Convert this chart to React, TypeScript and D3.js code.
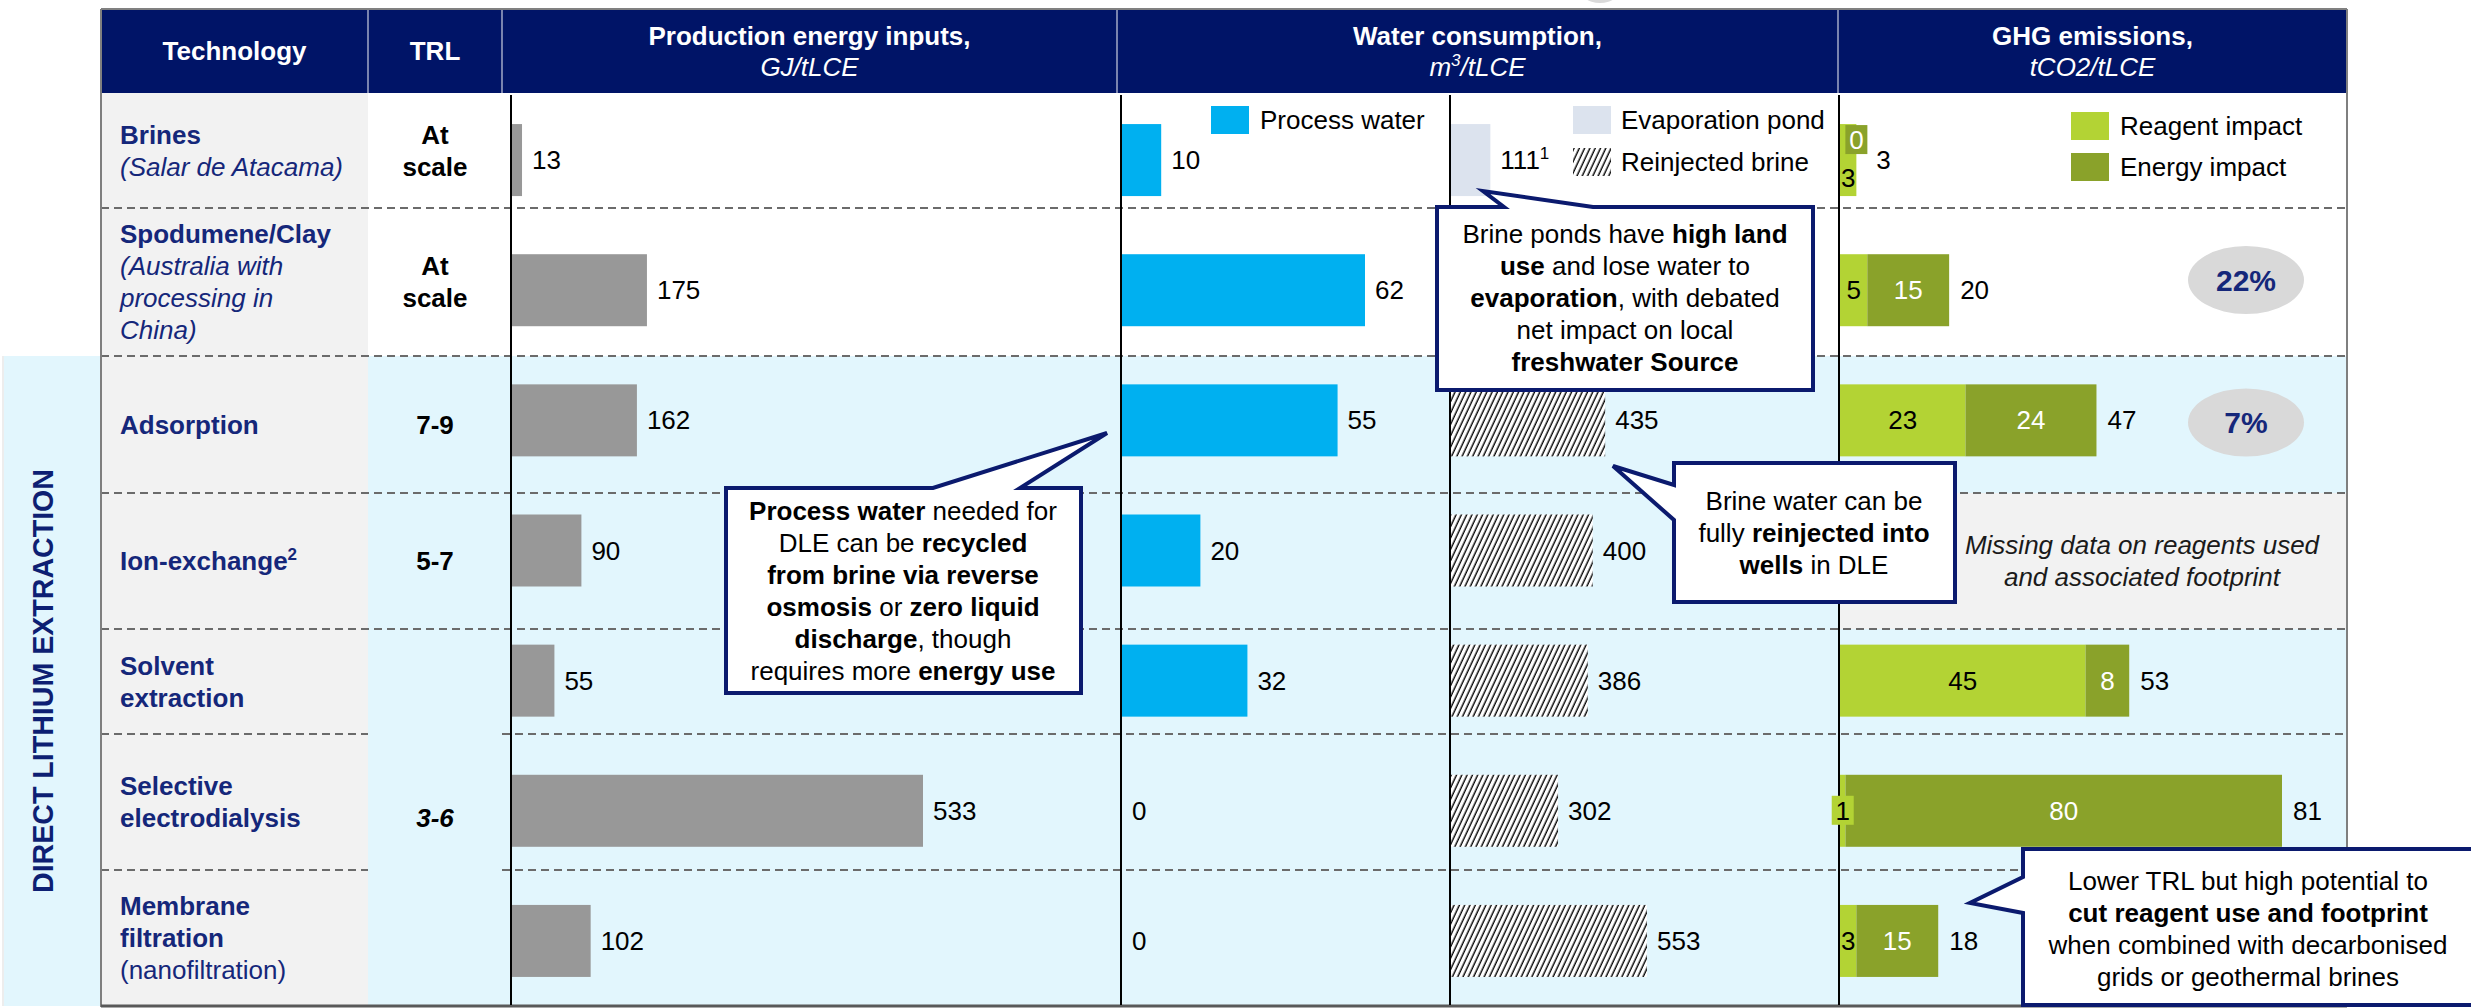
import React from "react";
import * as d3 from "d3";

const W = 2471;
const H = 1008;
const FONT = "'Liberation Sans', Arial, Helvetica, sans-serif";
const NAVY = "#001467";
const TXT_NAVY = "#15277A";
const LIGHT_BLUE = "#E2F6FD";
const TECH_GREY = "#F2F2F2";
const C_ENERGY_IN = "#989898";
const C_PROCESS = "#00B0F0";
const C_EVAP = "#DCE3EE";
const C_REAGENT = "#B3D334";
const C_ENERGY = "#8AA22A";

// ---------- data ----------
const technologies = [
  "Brines",
  "Spodumene/Clay",
  "Adsorption",
  "Ion-exchange",
  "Solvent extraction",
  "Selective electrodialysis",
  "Membrane filtration",
];
// label lines: [text, style, superscript]
const techLabelLines: [string, string, string?][][] = [
  [["Brines", "b"], ["(Salar de Atacama)", "i"]],
  [["Spodumene/Clay", "b"], ["(Australia with", "i"], ["processing in", "i"], ["China)", "i"]],
  [["Adsorption", "b"]],
  [["Ion-exchange", "b", "2"]],
  [["Solvent", "b"], ["extraction", "b"]],
  [["Selective", "b"], ["electrodialysis", "b"]],
  [["Membrane", "b"], ["filtration", "b"], ["(nanofiltration)", "n"]],
];
const trlLabels = ["At scale", "At scale", "7-9", "5-7", "3-6"];
const trlSpans = [[0, 0], [1, 1], [2, 2], [3, 3], [4, 6]];

const energyInputs = [13, 175, 162, 90, 55, 533, 102];
const processWater = [10, 62, 55, 20, 32, 0, 0];
const evaporationPond = [111, null, null, null, null, null, null];
const reinjectedBrine = [null, null, 435, 400, 386, 302, 553];
const reagentImpact = [3, 5, 23, null, 45, 1, 3];
const energyImpact = [0, 15, 24, null, 8, 80, 15];
const ghgTotal = [3, 20, 47, null, 53, 81, 18];
const reductionShare = [null, "22%", "7%", null, null, null, null];
const missingGhgText = ["Missing data on reagents used", "and associated footprint"];

const headerCols = [
  { label: "Technology", sub: null, x0: 101, x1: 368 },
  { label: "TRL", sub: null, x0: 368, x1: 502 },
  { label: "Production energy inputs,", sub: "GJ/tLCE", x0: 502, x1: 1117 },
  { label: "Water consumption,", sub: "m3/tLCE", x0: 1117, x1: 1838 },
  { label: "GHG emissions,", sub: "tCO2/tLCE", x0: 1838, x1: 2347 },
];

// row boundaries (layout)
const rowBounds = [93, 208, 356, 493, 629, 734, 870, 1006];
const DLE_START = 2;

type Seg = [string, number];
const callouts: { points: number[][]; cx: number; y0: number; lines: Seg[][] }[] = [
  {
    points: [[1437, 207], [1504, 207], [1483, 191], [1593, 207], [1813, 207], [1813, 390], [1437, 390]],
    cx: 1625,
    y0: 243,
    lines: [
      [["Brine ponds have ", 0], ["high land", 1]],
      [["use", 1], [" and lose water to", 0]],
      [["evaporation", 1], [", with debated", 0]],
      [["net impact on local", 0]],
      [["freshwater Source", 1]],
    ],
  },
  {
    points: [[726, 488], [933, 488], [1107, 433], [1020, 488], [1081, 488], [1081, 693], [726, 693]],
    cx: 903,
    y0: 520,
    lines: [
      [["Process water", 1], [" needed for", 0]],
      [["DLE can be ", 0], ["recycled", 1]],
      [["from brine via reverse", 1]],
      [["osmosis", 1], [" or ", 0], ["zero liquid", 1]],
      [["discharge", 1], [", though", 0]],
      [["requires more ", 0], ["energy use", 1]],
    ],
  },
  {
    points: [[1674, 463], [1955, 463], [1955, 602], [1674, 602], [1674, 520], [1613, 466], [1674, 485]],
    cx: 1814,
    y0: 510,
    lines: [
      [["Brine water can be", 0]],
      [["fully ", 0], ["reinjected into", 1]],
      [["wells", 1], [" in DLE", 0]],
    ],
  },
  {
    points: [[2023, 849], [2495, 849], [2495, 1005], [2023, 1005], [2023, 913], [1970, 903], [2023, 877]],
    cx: 2248,
    y0: 890,
    lines: [
      [["Lower TRL but high potential to", 0]],
      [["cut reagent use and footprint", 1]],
      [["when combined with decarbonised", 0]],
      [["grids or geothermal brines", 0]],
    ],
  },
];

const FS = 26;
const LH = 32;
const BAR_H = 72;

export default function App() {
  const y = d3.scalePoint<string>().domain(technologies).range([95, 1006]).padding(0.5);
  const xEnergy = d3.scaleLinear().domain([0, d3.max(energyInputs) as number]).range([512, 923]);
  const xProcess = d3.scaleLinear().domain([0, d3.max(processWater) as number]).range([1122, 1365]);
  const xBrine = d3
    .scaleLinear()
    .domain([0, d3.max(reinjectedBrine.filter((v) => v != null) as number[]) as number])
    .range([1451, 1647]);
  const xGhg = d3
    .scaleLinear()
    .domain([0, d3.max(ghgTotal.filter((v) => v != null) as number[]) as number])
    .range([1840, 2282]);

  const rowMid = (i: number) => (rowBounds[i] + rowBounds[i + 1]) / 2;
  const cy = (i: number) => y(technologies[i]) as number;

  const dashed = (yy: number, key: string, skipTrl: boolean) =>
    skipTrl ? (
      <g key={key}>
        <line x1={101} x2={368} y1={yy} y2={yy} stroke="#6b6b6b" strokeWidth={2} strokeDasharray="8,5" />
        <line x1={502} x2={2347} y1={yy} y2={yy} stroke="#6b6b6b" strokeWidth={2} strokeDasharray="8,5" />
      </g>
    ) : (
      <line key={key} x1={101} x2={2347} y1={yy} y2={yy} stroke="#6b6b6b" strokeWidth={2} strokeDasharray="8,5" />
    );

  const axisXs = [xEnergy(0) - 1, xProcess(0) - 1, xBrine(0) - 1, xGhg(0) - 1];

  return (
    <svg
      width={W}
      height={H}
      viewBox={`0 0 ${W} ${H}`}
      style={{ position: "absolute", left: 0, top: 0, display: "block", background: "#fff" }}
      fontFamily={FONT}
    >
      <defs>
        <pattern id="hatch" patternUnits="userSpaceOnUse" width={4.8} height={10} patternTransform="rotate(25)">
          <rect width={4.8} height={10} fill="#fff" />
          <line x1={1.2} y1={0} x2={1.2} y2={10} stroke="#000" strokeWidth={1.4} />
        </pattern>
      </defs>

      {/* small cut-off shape at top */}
      <ellipse cx={1600} cy={-14} rx={22} ry={17} fill="#D9D9D9" />

      {/* backgrounds */}
      <rect x={3} y={rowBounds[DLE_START]} width={98} height={rowBounds[7] - rowBounds[DLE_START]} fill={LIGHT_BLUE} />
      <line x1={3} x2={3} y1={rowBounds[DLE_START]} y2={rowBounds[7]} stroke="#EDEDED" strokeWidth={2} />
      <rect x={101} y={rowBounds[0]} width={267} height={rowBounds[7] - rowBounds[0]} fill={TECH_GREY} />
      <rect x={368} y={rowBounds[DLE_START]} width={2347 - 368} height={rowBounds[7] - rowBounds[DLE_START]} fill={LIGHT_BLUE} />
      {reagentImpact.map((v, i) =>
        v == null ? (
          <rect key={"mg" + i} x={1839} y={rowBounds[i]} width={2347 - 1839} height={rowBounds[i + 1] - rowBounds[i]} fill={TECH_GREY} />
        ) : null
      )}

      {/* header */}
      <rect x={101} y={10} width={2246} height={83} fill={NAVY} />
      <line x1={101} x2={2347} y1={9} y2={9} stroke="#808080" strokeWidth={2} />
      {headerCols.slice(1).map((c, i) => (
        <line key={"hs" + i} x1={c.x0} x2={c.x0} y1={10} y2={93} stroke="#ffffff" strokeWidth={1.2} strokeOpacity={0.8} />
      ))}
      {headerCols.map((c, i) => {
        const cx = (c.x0 + c.x1) / 2;
        if (!c.sub)
          return (
            <text key={"h" + i} x={cx} y={60} textAnchor="middle" fill="#fff" fontSize={FS} fontWeight="bold">
              {c.label}
            </text>
          );
        const m = c.sub.match(/^m3(.*)$/);
        return (
          <g key={"h" + i}>
            <text x={cx} y={45} textAnchor="middle" fill="#fff" fontSize={FS} fontWeight="bold">
              {c.label}
            </text>
            <text x={cx} y={76} textAnchor="middle" fill="#fff" fontSize={FS} fontStyle="italic">
              {m ? (
                <>
                  m<tspan fontSize={17} dy={-10}>3</tspan>
                  <tspan dy={10}>{m[1]}</tspan>
                </>
              ) : (
                c.sub
              )}
            </text>
          </g>
        );
      })}

      {/* dashed row separators */}
      {rowBounds.slice(1, 7).map((b, k) => dashed(b, "d" + k, k + 1 >= 5))}

      {/* table borders */}
      <line x1={101} x2={101} y1={9} y2={1007} stroke="#7f7f7f" strokeWidth={2} />
      <line x1={2347} x2={2347} y1={9} y2={1007} stroke="#7f7f7f" strokeWidth={2} />
      <line x1={101} x2={2347} y1={1006} y2={1006} stroke="#595959" strokeWidth={3} />

      {/* DLE band label */}
      <text
        transform={`translate(42,${(rowBounds[DLE_START] + rowBounds[7]) / 2}) rotate(-90)`}
        textAnchor="middle"
        dy="0.36em"
        fontSize={30}
        fontWeight="bold"
        fill="#0D1F73"
        textLength={424}
        lengthAdjust="spacingAndGlyphs"
      >
        DIRECT LITHIUM EXTRACTION
      </text>

      {/* technology labels */}
      {techLabelLines.map((lines, i) => {
        const mid = rowMid(i);
        return (
          <text key={"t" + i} fontSize={FS} fill={TXT_NAVY}>
            {lines.map((ln, j) => (
              <tspan
                key={j}
                x={120}
                y={mid + (j - (lines.length - 1) / 2) * LH + 9}
                fontWeight={ln[1] === "b" ? "bold" : "normal"}
                fontStyle={ln[1] === "i" ? "italic" : "normal"}
              >
                {ln[0]}
                {ln[2] ? (
                  <tspan fontSize={17} dy={-10}>
                    {ln[2]}
                  </tspan>
                ) : null}
              </tspan>
            ))}
          </text>
        );
      })}

      {/* TRL labels */}
      {trlLabels.map((t, k) => {
        const [a, b] = trlSpans[k];
        const mid = (rowBounds[a] + rowBounds[b + 1]) / 2;
        const lines = t === "At scale" ? ["At", "scale"] : [t];
        return (
          <text key={"trl" + k} fontSize={FS} fontWeight="bold" fill="#000" textAnchor="middle" fontStyle={t === "3-6" ? "italic" : "normal"}>
            {lines.map((ln, j) => (
              <tspan key={j} x={435} y={mid + (j - (lines.length - 1) / 2) * LH + 9}>
                {ln}
              </tspan>
            ))}
          </text>
        );
      })}

      {/* axes (drawn under the bars) */}
      {axisXs.map((x, k) => (
        <line key={"ax" + k} x1={x} x2={x} y1={95} y2={1005} stroke="#000" strokeWidth={2} />
      ))}

      {/* production energy inputs */}
      {energyInputs.map((v, i) => (
        <g key={"e" + i}>
          <rect x={xEnergy(0)} y={cy(i) - BAR_H / 2} width={xEnergy(v) - xEnergy(0)} height={BAR_H} fill={C_ENERGY_IN} />
          <text x={xEnergy(v) + 10} y={cy(i)} dy="0.35em" fontSize={FS} fill="#000">
            {v}
          </text>
        </g>
      ))}

      {/* process water */}
      {processWater.map((v, i) => (
        <g key={"p" + i}>
          <rect x={xProcess(0)} y={cy(i) - BAR_H / 2} width={xProcess(v) - xProcess(0)} height={BAR_H} fill={C_PROCESS} />
          <text x={xProcess(v) + 10} y={cy(i)} dy="0.35em" fontSize={FS} fill="#000">
            {v}
          </text>
        </g>
      ))}

      {/* evaporation pond */}
      {evaporationPond.map((v, i) =>
        v == null ? null : (
          <g key={"ev" + i}>
            <rect x={xBrine(0)} y={cy(i) - BAR_H / 2} width={xBrine(v) - xBrine(0)} height={BAR_H} fill={C_EVAP} />
            <text x={xBrine(v) + 10} y={cy(i)} dy="0.35em" fontSize={FS} fill="#000">
              {v}
              <tspan fontSize={17} dy={-10}>
                1
              </tspan>
            </text>
          </g>
        )
      )}

      {/* reinjected brine */}
      {reinjectedBrine.map((v, i) =>
        v == null ? null : (
          <g key={"rb" + i}>
            <rect x={xBrine(0)} y={cy(i) - BAR_H / 2} width={xBrine(v) - xBrine(0)} height={BAR_H} fill="url(#hatch)" />
            <text x={xBrine(v) + 10} y={cy(i)} dy="0.35em" fontSize={FS} fill="#000">
              {v}
            </text>
          </g>
        )
      )}

      {/* GHG stacked */}
      {reagentImpact.map((r, i) => {
        const e = energyImpact[i];
        const tot = ghgTotal[i];
        if (r == null || e == null || tot == null) return null;
        const x0 = xGhg(0);
        const xr = xGhg(r);
        const xe = xGhg(r + e);
        const c = cy(i);
        const eSmall = xe - xr < 12;
        const rSmall = xr - x0 < 12;
        let totalX = xe + 11;
        const els: React.ReactNode[] = [];
        els.push(<rect key="r" x={x0} y={c - BAR_H / 2} width={xr - x0} height={BAR_H} fill={C_REAGENT} />);
        els.push(<rect key="e" x={xr} y={c - BAR_H / 2} width={xe - xr} height={BAR_H} fill={C_ENERGY} />);
        if (eSmall) {
          const bx = xr - 11;
          els.push(<rect key="eb" x={bx} y={c - 35} width={22} height={29} fill={C_ENERGY} />);
          els.push(
            <text key="et" x={bx + 11} y={c - 20.5} dy="0.35em" textAnchor="middle" fontSize={FS} fill="#fff">
              {e}
            </text>
          );
          els.push(
            <text key="rt" x={(x0 + xr) / 2} y={c + 18} dy="0.35em" textAnchor="middle" fontSize={FS} fill="#000">
              {r}
            </text>
          );
          totalX = Math.max(xe, bx + 22) + 9;
        } else {
          if (rSmall) {
            const mx = (x0 + xr) / 2;
            els.push(<rect key="rb" x={mx - 11} y={c - 15} width={22} height={29} fill={C_REAGENT} />);
          }
          els.push(
            <text key="rt" x={(x0 + xr) / 2} y={c} dy="0.35em" textAnchor="middle" fontSize={FS} fill="#000">
              {r}
            </text>
          );
          els.push(
            <text key="et" x={(xr + xe) / 2} y={c} dy="0.35em" textAnchor="middle" fontSize={FS} fill="#fff">
              {e}
            </text>
          );
        }
        els.push(
          <text key="tt" x={totalX} y={c} dy="0.35em" fontSize={FS} fill="#000">
            {tot}
          </text>
        );
        return <g key={"g" + i}>{els}</g>;
      })}

      {/* missing GHG data note */}
      {reagentImpact.map((v, i) =>
        v == null ? (
          <text key={"mt" + i} fontSize={FS} fontStyle="italic" fill="#1a1a1a" textAnchor="middle">
            {missingGhgText.map((t, j) => (
              <tspan key={j} x={2142} y={rowMid(i) + (j - 0.5) * LH + 9}>
                {t}
              </tspan>
            ))}
          </text>
        ) : null
      )}

      {/* reduction share ellipses */}
      {reductionShare.map((s, i) =>
        s == null ? null : (
          <g key={"rs" + i}>
            <ellipse cx={2246} cy={rowMid(i) - 2} rx={58} ry={34} fill="#D9D9D9" />
            <text x={2246} y={rowMid(i) - 2} dy="0.36em" textAnchor="middle" fontSize={30} fontWeight="bold" fill={TXT_NAVY}>
              {s}
            </text>
          </g>
        )
      )}

      {/* legends */}
      <g fontSize={FS} fill="#000">
        <rect x={1211} y={106} width={38} height={28} fill={C_PROCESS} />
        <text x={1260} y={120} dy="0.35em">Process water</text>
        <rect x={1573} y={106} width={38} height={28} fill={C_EVAP} />
        <text x={1621} y={120} dy="0.35em">Evaporation pond</text>
        <rect x={1573} y={148} width={38} height={28} fill="url(#hatch)" />
        <text x={1621} y={162} dy="0.35em">Reinjected brine</text>
        <rect x={2071} y={112} width={38} height={28} fill={C_REAGENT} />
        <text x={2120} y={126} dy="0.35em">Reagent impact</text>
        <rect x={2071} y={153} width={38} height={28} fill={C_ENERGY} />
        <text x={2120} y={167} dy="0.35em">Energy impact</text>
      </g>

      {/* callouts */}
      {callouts.map((co, k) => (
        <g key={"co" + k}>
          <polygon points={co.points.map((p) => p.join(",")).join(" ")} fill="#fff" stroke="#0B1A6E" strokeWidth={4} strokeLinejoin="miter" />
          <text fontSize={FS} fill="#000" textAnchor="middle">
            {co.lines.map((ln, j) => (
              <tspan key={j} x={co.cx} y={co.y0 + j * LH}>
                {ln.map((s, q) => (
                  <tspan key={q} fontWeight={s[1] ? "bold" : "normal"}>
                    {s[0]}
                  </tspan>
                ))}
              </tspan>
            ))}
          </text>
        </g>
      ))}
    </svg>
  );
}
